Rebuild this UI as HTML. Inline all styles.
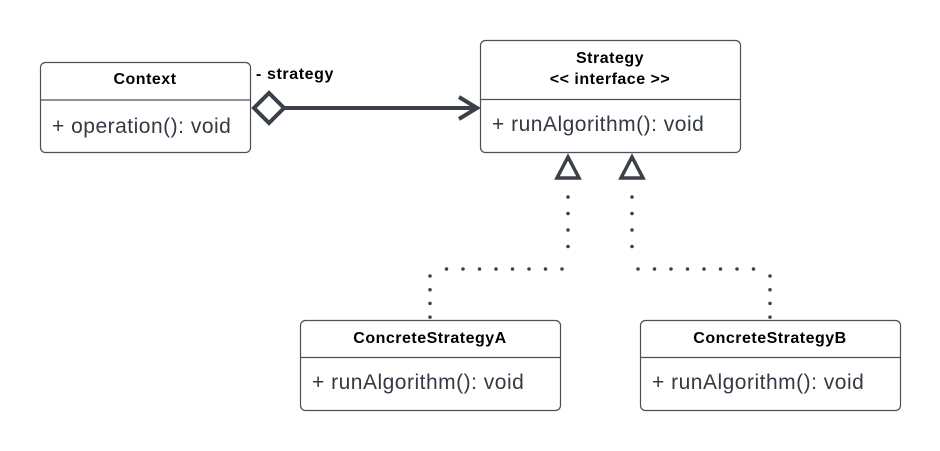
<!DOCTYPE html>
<html><head><style>
html,body{margin:0;padding:0;background:#fff;}
svg{display:block;}
text{font-family:"Liberation Sans",sans-serif;}
.h{font-weight:bold;font-size:16px;letter-spacing:0.5px;fill:#000;text-anchor:middle;}
.b{font-size:21px;letter-spacing:0.5px;fill:#333a44;}
</style></head><body>
<svg width="940" height="451" viewBox="0 0 940 451" xmlns="http://www.w3.org/2000/svg">
<g fill="#fff" stroke="#4a4f58" stroke-width="1.2">
<rect x="40.5" y="62.5" width="210" height="90" rx="5"/>
<line x1="40" y1="100" x2="250" y2="100"/>
<rect x="480.5" y="40.5" width="260" height="112" rx="5"/>
<line x1="480" y1="99.5" x2="740" y2="99.5"/>
<rect x="300.5" y="320.5" width="260" height="90" rx="5"/>
<line x1="300" y1="357.5" x2="560" y2="357.5"/>
<rect x="640.5" y="320.5" width="260" height="90" rx="5"/>
<line x1="640" y1="357.5" x2="900" y2="357.5"/>
</g>
<text class="h" x="145" y="84">Context</text>
<text class="b" x="52" y="133">+ operation(): void</text>
<text class="h" x="610" y="63">Strategy</text>
<text class="h" x="610" y="84">&lt;&lt; interface &gt;&gt;</text>
<text class="b" x="492" y="131">+ runAlgorithm(): void</text>
<text class="h" x="430" y="343">ConcreteStrategyA</text>
<text class="b" x="312" y="389">+ runAlgorithm(): void</text>
<text class="h" x="770" y="343">ConcreteStrategyB</text>
<text class="b" x="652" y="389">+ runAlgorithm(): void</text>
<text x="256" y="79" style="font-weight:bold;font-size:16px;letter-spacing:0.6px;fill:#000">- strategy</text>
<g stroke="#3a4049" fill="none" stroke-width="4">
<polygon points="254,108 269,93 284,108 269,123" fill="#fff"/>
<line x1="284" y1="108" x2="476" y2="108"/>
<polyline points="459,97 477,108 459,119"/>
<polygon points="568,157 557,178 579,178" fill="#fff" stroke-width="3.5"/>
<polygon points="632,157 621,178 643,178" fill="#fff" stroke-width="3.5"/>
</g>
<g stroke="#3a4049" stroke-width="3.5" stroke-linecap="round" fill="none" stroke-dasharray="0 16.5">
<line x1="568" y1="197" x2="568" y2="248"/>
<line x1="562" y1="269" x2="445" y2="269"/>
<line x1="632" y1="197" x2="632" y2="248"/>
<line x1="638" y1="269" x2="755" y2="269"/>
</g>
<g stroke="#3a4049" stroke-width="3.5" stroke-linecap="round" fill="none" stroke-dasharray="0 13.7">
<line x1="430" y1="276" x2="430" y2="318"/>
<line x1="770" y1="276" x2="770" y2="318"/>
</g>
</svg>
</body></html>
